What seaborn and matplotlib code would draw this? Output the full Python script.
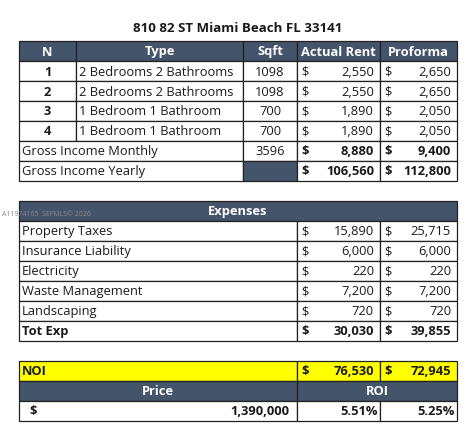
import matplotlib
matplotlib.use("Agg")
import matplotlib.pyplot as plt
from matplotlib.patches import Rectangle
import seaborn as sns

title = "810 82 ST Miami Beach FL 33141"
unit_header = ["N", "Type", "Sqft", "Actual Rent", "Proforma"]
unit_n = ["1", "2", "3", "4"]
unit_type = ["2 Bedrooms 2 Bathrooms", "2 Bedrooms 2 Bathrooms", "1 Bedroom 1 Bathroom", "1 Bedroom 1 Bathroom"]
unit_sqft = [1098, 1098, 700, 700]
unit_actual = [2550, 2550, 1890, 1890]
unit_proforma = [2650, 2650, 2050, 2050]
gross_sqft = 3596
gross_monthly = [8880, 9400]
gross_yearly = [106560, 112800]
expense_names = ["Property Taxes", "Insurance Liability", "Electricity", "Waste Management", "Landscaping"]
expense_actual = [15890, 6000, 220, 7200, 720]
expense_proforma = [25715, 6000, 220, 7200, 720]
tot_exp = [30030, 39855]
noi = [76530, 72945]
price = 1390000
roi = ["5.51%", "5.25%"]

sns.set_style("white")
plt.rcParams['font.family'] = ['Open Sans', 'DejaVu Sans']

NAVY = "#44546a"
YELLOW = "#ffff00"
FS = 9.3

fig = plt.figure(figsize=(4.76, 4.31), dpi=100)
ax = fig.add_axes([0, 0, 1, 1])
ax.set_xlim(0, 476)
ax.set_ylim(431, 0)
ax.axis("off")

# column edges
X = [19, 76, 243, 297, 380, 457]


def cell(x0, x1, y0, y1, fill="white"):
    ax.add_patch(Rectangle((x0, y0), x1 - x0, y1 - y0, facecolor=fill, edgecolor="#222222", lw=0.9))


def txt(x, y, s, ha="left", bold=False, color="#1a1a1a", size=FS):
    ax.text(x, y, s, ha=ha, va="center", fontsize=size, color=color,
            fontweight="bold" if bold else "normal")


def money(x0, x1, y, v, bold=False):
    txt(x0 + 4, y, "$", bold=bold)
    txt(x1 - 6, y, f"{v:,}", ha="right", bold=bold)


txt(238, 28, title, ha="center", bold=True, size=9.5)

# unit table
y = 42
h = 20
for i in range(5):
    cell(X[i], X[i + 1], y, y + h, NAVY)
    txt((X[i] + X[i + 1]) / 2, y + h / 2, unit_header[i], ha="center", bold=True, color="white")
y += h
for n, t, s, a, p in zip(unit_n, unit_type, unit_sqft, unit_actual, unit_proforma):
    for i in range(5):
        cell(X[i], X[i + 1], y, y + h)
    c = y + h / 2
    txt((X[0] + X[1]) / 2, c, n, ha="center", bold=True)
    txt(X[1] + 3, c, t)
    txt((X[2] + X[3]) / 2, c, str(s), ha="center")
    money(X[3], X[4], c, a)
    money(X[4], X[5], c, p)
    y += h
# gross monthly
cell(X[0], X[2], y, y + h)
for i in range(2, 5):
    cell(X[i], X[i + 1], y, y + h)
c = y + h / 2
txt(X[0] + 3, c, "Gross Income Monthly")
txt((X[2] + X[3]) / 2, c, str(gross_sqft), ha="center")
money(X[3], X[4], c, gross_monthly[0], bold=True)
money(X[4], X[5], c, gross_monthly[1], bold=True)
y += h
cell(X[0], X[2], y, y + h)
cell(X[2], X[3], y, y + h, NAVY)
cell(X[3], X[4], y, y + h)
cell(X[4], X[5], y, y + h)
c = y + h / 2
txt(X[0] + 3, c, "Gross Income Yearly")
money(X[3], X[4], c, gross_yearly[0], bold=True)
money(X[4], X[5], c, gross_yearly[1], bold=True)

# expenses table
y = 202
cell(X[0], X[5], y, y + h, NAVY)
txt(238, y + h / 2, "Expenses", ha="center", bold=True, color="white")
ax.text(2, 215, "A11974165  SEFMLS\u00a9 2026", fontsize=5, color="#888888", va="center")
y += h
rows = list(zip(expense_names, expense_actual, expense_proforma)) + [("Tot Exp", tot_exp[0], tot_exp[1])]
for k, (name, a, p) in enumerate(rows):
    bold = k == len(rows) - 1
    cell(X[0], X[3], y, y + h)
    cell(X[3], X[4], y, y + h)
    cell(X[4], X[5], y, y + h)
    c = y + h / 2
    txt(X[0] + 3, c, name, bold=bold)
    money(X[3], X[4], c, a, bold=bold)
    money(X[4], X[5], c, p, bold=bold)
    y += h

# NOI / price / ROI
y = 362
cell(X[0], X[3], y, y + h, YELLOW)
cell(X[3], X[4], y, y + h, YELLOW)
cell(X[4], X[5], y, y + h, YELLOW)
c = y + h / 2
txt(X[0] + 3, c, "NOI", bold=True)
money(X[3], X[4], c, noi[0], bold=True)
money(X[4], X[5], c, noi[1], bold=True)
y += h
cell(X[0], X[3], y, y + h, NAVY)
cell(X[3], X[5], y, y + h, NAVY)
txt((X[0] + X[3]) / 2, y + h / 2, "Price", ha="center", bold=True, color="white")
txt((X[3] + X[5]) / 2, y + h / 2, "ROI", ha="center", bold=True, color="white")
y += h
cell(X[0], X[3], y, y + h)
cell(X[3], X[4], y, y + h)
cell(X[4], X[5], y, y + h)
c = y + h / 2
txt(X[0] + 10, c, "$", bold=True)
txt(X[3] - 8, c, f"{price:,}", ha="right", bold=True)
txt(X[4] - 2, c, roi[0], ha="right", bold=True)
txt(X[5] - 2, c, roi[1], ha="right", bold=True)

fig.savefig("out.png", dpi=100)
